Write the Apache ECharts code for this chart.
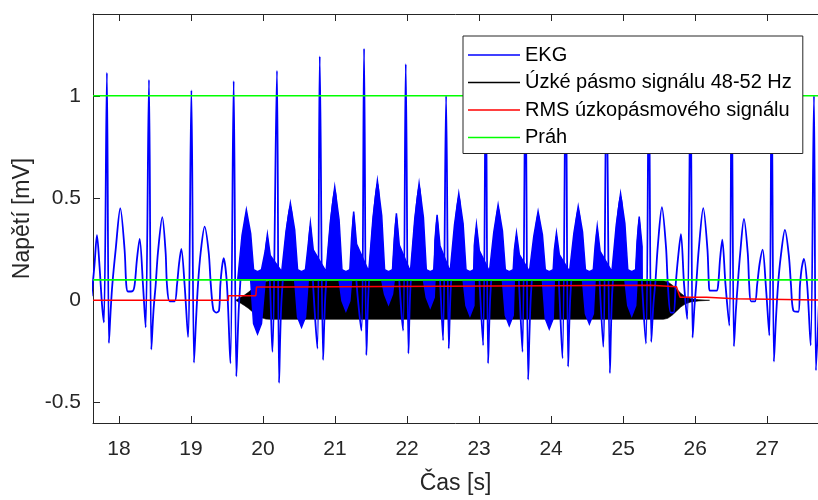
<!DOCTYPE html>
<html>
<head>
<meta charset="utf-8">
<script src="https://cdn.jsdelivr.net/npm/echarts@6/dist/echarts.min.js"></script>
<style>
html,body{margin:0;padding:0;background:#fff;}
#chart{width:818px;height:500px;}
</style>
</head>
<body>
<div id="chart"></div>
<script>
// ---------- data ----------
const xTicks = [18, 19, 20, 21, 22, 23, 24, 25, 26, 27];
const yTicks = [-0.5, 0, 0.5, 1];
const legendNames = ['EKG', 'Úzké pásmo signálu 48-52 Hz', 'RMS úzkopásmového signálu', 'Práh'];

// EKG key points [time s, voltage mV]
const ekg = [
[17.62,0.02],[17.66,0.17],[17.695,0.318],[17.73,0.17],[17.765,-0.02],[17.792,-0.108],[17.833,1.113],[17.861,-0.209],
[17.885,-0.05],[17.908,0.075],[17.954,0.245],[18.019,0.45],[18.079,0.245],[18.102,0.075],[18.125,0.043],[18.19,0.045],[18.218,0.075],[18.25,0.2],[18.288,0.30],[18.334,0.075],[18.371,-0.132],[18.417,1.078],[18.45,-0.241],
[18.48,-0.05],[18.51,0.075],[18.542,0.235],[18.602,0.407],[18.648,0.235],[18.667,0.075],[18.704,-0.005],[18.774,-0.005],[18.806,0.075],[18.835,0.18],[18.866,0.251],[18.912,0.075],[18.959,-0.18],[19.006,1.027],[19.042,-0.305],
[19.07,-0.1],[19.097,0.075],[19.135,0.235],[19.19,0.36],[19.246,0.235],[19.275,0.08],[19.31,-0.045],[19.35,-0.06],[19.389,-0.05],[19.408,0.075],[19.43,0.16],[19.454,0.206],[19.5,0.075],[19.547,-0.308],[19.593,1.072],[19.63,-0.372],
[19.67,0.0],[19.769,0.427],[19.84,0.1],[19.93,-0.05],[20.0,0.1],[20.061,0.307],[20.10,0.05],[20.13,-0.252],[20.194,1.123],[20.223,-0.404],
[20.26,0.02],[20.38,0.459],[20.45,0.1],[20.52,-0.03],[20.60,0.1],[20.658,0.363],[20.70,0.05],[20.755,-0.236],[20.788,1.193],[20.834,-0.292],
[20.87,0.05],[20.996,0.539],[21.07,0.12],[21.145,0.04],[21.21,0.12],[21.259,0.419],[21.30,0.08],[21.366,-0.148],[21.403,1.231],[21.435,-0.268],
[21.47,0.08],[21.588,0.57],[21.66,0.14],[21.748,0.06],[21.80,0.14],[21.852,0.41],[21.895,0.08],[21.945,-0.148],[21.982,1.155],[22.019,-0.26],
[22.05,0.08],[22.167,0.556],[22.24,0.14],[22.315,0.05],[22.37,0.14],[22.417,0.403],[22.46,0.08],[22.50,-0.196],[22.542,1.0],[22.579,-0.236],
[22.61,0.08],[22.718,0.507],[22.79,0.12],[22.87,0.03],[22.92,0.12],[22.963,0.355],[23.01,0.06],[23.056,-0.22],[23.093,1.15],[23.125,-0.308],
[23.16,0.05],[23.264,0.451],[23.34,0.1],[23.40,0.0],[23.47,0.1],[23.519,0.315],[23.56,0.04],[23.602,-0.252],[23.644,1.12],[23.681,-0.388],
[23.72,0.03],[23.819,0.419],[23.89,0.1],[23.958,-0.01],[24.03,0.1],[24.074,0.315],[24.115,0.03],[24.157,-0.284],[24.204,1.18],[24.236,-0.324],
[24.27,0.04],[24.376,0.443],[24.45,0.1],[24.49,0.0],[24.59,0.1],[24.64,0.347],[24.68,0.04],[24.723,-0.228],[24.769,1.1],[24.816,-0.356],
[24.85,0.05],[24.964,0.507],[25.04,0.12],[25.094,0.03],[25.17,0.12],[25.223,0.395],[25.265,0.06],[25.316,-0.212],[25.357,1.14],[25.39,-0.204],
[25.42,-0.02],[25.45,0.10],[25.48,0.26],[25.538,0.455],[25.595,0.26],[25.62,0.08],[25.66,-0.06],[25.70,-0.06],[25.73,0.08],[25.76,0.2],[25.802,0.323],[25.845,0.08],[25.889,-0.092],[25.936,1.08],[25.964,-0.183],
[25.99,-0.03],[26.015,0.08],[26.05,0.25],[26.112,0.451],[26.17,0.25],[26.19,0.08],[26.204,0.047],[26.297,0.047],[26.32,0.08],[26.345,0.2],[26.376,0.296],[26.42,0.08],[26.473,-0.124],[26.506,1.12],[26.538,-0.225],
[26.565,-0.05],[26.59,0.075],[26.625,0.23],[26.677,0.398],[26.73,0.23],[26.75,0.075],[26.775,-0.005],[26.83,-0.005],[26.86,0.075],[26.895,0.18],[26.936,0.248],[26.98,0.075],[27.029,-0.172],[27.061,1.1],[27.093,-0.30],
[27.12,-0.1],[27.15,0.075],[27.19,0.22],[27.246,0.344],[27.30,0.22],[27.33,0.075],[27.362,-0.05],[27.431,-0.056],[27.455,0.075],[27.48,0.16],[27.51,0.203],[27.555,0.075],[27.603,-0.22],[27.649,1.0],[27.677,-0.343],[27.72,0.0]
];

// 50 Hz noise visible on the EKG: upper / lower envelope
const noiseT = [
19.649,19.709,19.769,19.829,19.869,19.924,19.979,20.031,20.061,20.101,
20.26,20.32,20.38,20.44,20.48,20.535,20.59,20.628,20.658,20.698,
20.876,20.936,20.996,21.056,21.096,21.151,21.206,21.229,21.259,21.299,
21.468,21.528,21.588,21.648,21.688,21.743,21.798,21.822,21.852,21.892,
22.047,22.107,22.167,22.227,22.267,22.322,22.377,22.387,22.417,22.457,
22.598,22.658,22.718,22.778,22.818,22.873,22.928,22.933,22.963,23.003,
23.144,23.204,23.264,23.324,23.364,23.419,23.474,23.489,23.519,23.559,
23.699,23.759,23.819,23.879,23.919,23.974,24.029,24.044,24.074,24.114,
24.256,24.316,24.376,24.436,24.476,24.531,24.586,24.61,24.64,24.68,
24.844,24.904,24.964,25.024,25.064,25.119,25.174,25.193,25.223,25.263];
const noiseHi = [
0.10,0.318,0.442,0.326,0.15,0.14,0.15,0.241,0.322,0.219,
0.14,0.338,0.474,0.345,0.15,0.14,0.15,0.272,0.378,0.247,
0.14,0.387,0.554,0.395,0.15,0.14,0.15,0.302,0.434,0.275,
0.14,0.407,0.585,0.414,0.15,0.14,0.15,0.298,0.425,0.27,
0.14,0.398,0.571,0.406,0.15,0.14,0.15,0.294,0.418,0.267,
0.14,0.368,0.522,0.375,0.15,0.14,0.15,0.267,0.37,0.243,
0.14,0.333,0.466,0.340,0.15,0.14,0.15,0.245,0.33,0.223,
0.14,0.313,0.434,0.321,0.15,0.14,0.15,0.245,0.33,0.223,
0.14,0.328,0.458,0.335,0.15,0.14,0.15,0.263,0.362,0.239,
0.14,0.368,0.522,0.375,0.15,0.14,0.15,0.289,0.41,0.263];
const noiseLo = [
0.10,0.10,0.10,0.10,-0.114,-0.164,-0.114,0.10,0.10,0.10,
0.10,0.10,0.10,0.10,-0.082,-0.132,-0.082,0.10,0.10,0.10,
0.10,0.10,0.10,0.10,-0.002,-0.052,-0.002,0.10,0.10,0.10,
0.10,0.10,0.10,0.10,0.03,-0.02,0.03,0.10,0.10,0.10,
0.10,0.10,0.10,0.10,0.014,-0.036,0.014,0.10,0.10,0.10,
0.10,0.10,0.10,0.10,-0.026,-0.076,-0.026,0.10,0.10,0.10,
0.10,0.10,0.10,0.10,-0.074,-0.124,-0.074,0.10,0.10,0.10,
0.10,0.10,0.10,0.10,-0.09,-0.14,-0.09,0.10,0.10,0.10,
0.10,0.10,0.10,0.10,-0.066,-0.116,-0.066,0.10,0.10,0.10,
0.10,0.10,0.10,0.10,-0.026,-0.076,-0.026,0.10,0.10,0.10];

// narrow-band 48-52 Hz signal: envelope of the dense oscillation
const narrowT  = [19.62,19.68,19.74,19.80,19.86,19.92,19.98,20.04,20.10,25.56,25.62,25.68,25.74,25.80,25.86,25.94,26.05,26.20];
const narrowHi = [0.0,0.012,0.025,0.04,0.058,0.074,0.085,0.092,0.095,0.095,0.09,0.075,0.055,0.035,0.018,0.008,0.003,0.0];
const narrowLo = [0.0,-0.012,-0.025,-0.04,-0.058,-0.074,-0.085,-0.092,-0.093,-0.093,-0.088,-0.073,-0.053,-0.033,-0.018,-0.008,-0.003,0.0];

// RMS of the narrow-band signal
const rms = [[17.64,0],[19.52,0],[19.52,0.022],[19.90,0.022],[19.91,0.065],[20.29,0.065],[20.29,0.074],[25.39,0.074],[25.39,0.066],[25.74,0.066],[25.79,0.015],[26.16,0.015],[26.16,0.007],[26.55,0.007],[26.55,0.001],[27.71,0.001]];

// thresholds
const thrHigh = [[17.64,1.0],[27.71,1.0]];
const thrLow  = [[17.64,0.1],[27.71,0.1]];

// ---------- chart ----------
const FONT = "'Liberation Sans', Arial, Helvetica, sans-serif";
const AX = '#262626';
const X_MIN = 17.64, X_MAX = 27.705, Y_MIN = -0.6, Y_MAX = 1.4;
const LINE_ICON = 'path://M0,0L52,0L52,1.5L0,1.5Z';

function bandPoints(api, ts, hi, lo) {
  const pts = [];
  for (let i = 0; i < ts.length; i++) pts.push(api.coord([ts[i], hi[i]]));
  for (let i = ts.length - 1; i >= 0; i--) pts.push(api.coord([ts[i], lo[i]]));
  return pts;
}

const chart = echarts.init(document.getElementById('chart'), null, {renderer: 'canvas'});
chart.setOption({
  animation: false,
  backgroundColor: '#fff',
  textStyle: {fontFamily: FONT},
  grid: {left: 93, top: 14, width: 725, height: 416, containLabel: false},
  legend: {
    data: legendNames.map(function (n) { return {name: n, icon: LINE_ICON}; }),
    orient: 'vertical',
    left: 463, top: 36,
    padding: [9, 11, 6, 5],
    itemWidth: 52, itemHeight: 14, itemGap: 7.5,
    symbolKeepAspect: true,
    backgroundColor: '#fff',
    borderColor: AX, borderWidth: 1, borderRadius: 0,
    textStyle: {fontFamily: FONT, fontSize: 20, color: '#000', lineHeight: 20},
    selectedMode: false
  },
  xAxis: [{
    type: 'value', min: X_MIN, max: X_MAX, position: 'bottom',
    axisLine: {show: true, onZero: false, lineStyle: {color: AX, width: 1}},
    axisTick: {show: true, inside: true, length: 7, customValues: xTicks, lineStyle: {color: AX}},
    axisLabel: {customValues: xTicks, margin: 16, fontSize: 21, color: AX, fontFamily: FONT},
    splitLine: {show: false},
    name: 'Čas [s]', nameLocation: 'middle', nameGap: 49,
    nameTextStyle: {fontSize: 23, color: AX, fontFamily: FONT}
  }, {
    type: 'value', min: X_MIN, max: X_MAX, position: 'top',
    axisLine: {show: true, onZero: false, lineStyle: {color: AX, width: 1}},
    axisTick: {show: true, inside: true, length: 7, customValues: xTicks, lineStyle: {color: AX}},
    axisLabel: {show: false},
    splitLine: {show: false}
  }],
  yAxis: [{
    type: 'value', min: Y_MIN, max: Y_MAX, position: 'left',
    axisLine: {show: true, onZero: false, lineStyle: {color: AX, width: 1}},
    axisTick: {show: true, inside: true, length: 7, customValues: yTicks, lineStyle: {color: AX}},
    axisLabel: {customValues: yTicks, margin: 12, fontSize: 21, color: AX, fontFamily: FONT},
    splitLine: {show: false},
    name: 'Napětí [mV]', nameLocation: 'middle', nameGap: 55, nameRotate: 90,
    nameTextStyle: {fontSize: 23, color: AX, fontFamily: FONT}
  }],
  series: [
    {
      name: 'narrowband', type: 'custom', coordinateSystem: 'cartesian2d',
      data: [[narrowT[0], 0]], silent: true, z: 1,
      renderItem: function (params, api) {
        return {type: 'polygon', shape: {points: bandPoints(api, narrowT, narrowHi, narrowLo)}, style: {fill: '#000', stroke: '#000', lineWidth: 0.6}};
      }
    },
    {
      name: 'ekgNoise', type: 'custom', coordinateSystem: 'cartesian2d',
      data: [[noiseT[0], 0]], silent: true, z: 2,
      renderItem: function (params, api) {
        return {type: 'polygon', shape: {points: bandPoints(api, noiseT, noiseHi, noiseLo)}, style: {fill: '#0000ff', stroke: '#0000ff', lineWidth: 1.5}};
      }
    },
    {
      name: 'EKG', type: 'line', data: ekg, symbol: 'none', showSymbol: false,
      smooth: 0.3, color: '#0000ff', itemStyle: {color: '#0000ff'}, lineStyle: {color: '#0000ff', width: 1.8}, z: 2, clip: true
    },
    {
      name: 'Úzké pásmo signálu 48-52 Hz', type: 'line', data: [], symbol: 'none',
      color: '#000', itemStyle: {color: '#000'}, lineStyle: {color: '#000', width: 1.4}, z: 2
    },
    {
      name: 'RMS úzkopásmového signálu', type: 'line', data: rms, symbol: 'none',
      color: '#ff0000', itemStyle: {color: '#ff0000'}, lineStyle: {color: '#ff0000', width: 1.5}, z: 3, clip: true
    },
    {
      name: 'Práh', type: 'line', data: thrHigh, symbol: 'none',
      color: '#00ff00', itemStyle: {color: '#00ff00'}, lineStyle: {color: '#00ff00', width: 1.6}, z: 3, clip: true
    },
    {
      name: 'Práh', type: 'line', data: thrLow, symbol: 'none',
      color: '#00ff00', itemStyle: {color: '#00ff00'}, lineStyle: {color: '#00ff00', width: 1.6}, z: 3, clip: true
    }
  ]
});
</script>
</body>
</html>
